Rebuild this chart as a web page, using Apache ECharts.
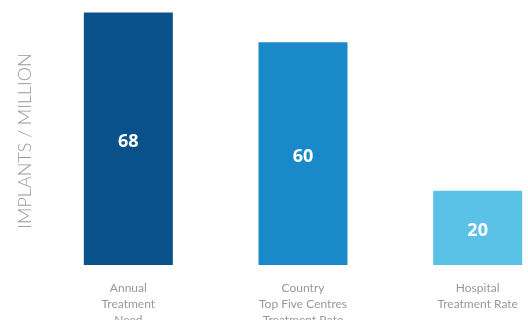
<!DOCTYPE html>
<html>
<head>
<meta charset="utf-8">
<script src="https://cdn.jsdelivr.net/npm/echarts@6/dist/echarts.min.js"></script>
<style>
  html, body { margin: 0; padding: 0; background: #fff; }
  #chart { width: 528px; height: 320px; }
</style>
</head>
<body>
<div id="chart"></div>
<script>
// data
var categories = [
    'Annual\nTreatment\nNeed',
    'Country\nTop Five Centres\nTreatment Rate',
    'Hospital\nTreatment Rate'
];
var values = [68, 60, 20];
var barColors = ['#09518b', '#1a89c9', '#5bc2e7'];
var yAxisName = 'IMPLANTS / MILLION';

var myChart = echarts.init(document.getElementById('chart'));

var option = {
    animation: false,
    grid: {
        left: 41,
        width: 524,
        top: 5,
        bottom: 55,
        outerBoundsMode: 'none',
        containLabel: false
    },
    xAxis: {
        type: 'category',
        data: categories,
        axisLine: { show: false },
        axisTick: { show: false },
        axisLabel: {
            color: '#999',
            fontSize: 12,
            lineHeight: 16,
            margin: 15,
            fontFamily: 'Lato'
        }
    },
    yAxis: {
        type: 'value',
        min: 0,
        max: 70,
        name: yAxisName,
        nameLocation: 'middle',
        nameGap: 7,
        nameTextStyle: {
            color: '#999',
            fontSize: 18,
            fontWeight: 300,
            fontFamily: 'Lato',
            padding: [0, 12, 0, 0]
        },
        axisLine: { show: false },
        axisTick: { show: false },
        axisLabel: { show: false },
        splitLine: { show: false }
    },
    series: [{
        type: 'bar',
        barWidth: 89,
        data: values.map(function (v, i) {
            return { value: v, itemStyle: { color: barColors[i] } };
        }),
        label: {
            show: true,
            position: 'inside',
            offset: [0, 3],
            color: '#fff',
            fontSize: 18,
            fontWeight: 'bold',
            fontFamily: 'Open Sans'
        }
    }]
};

myChart.setOption(option);
</script>
</body>
</html>
